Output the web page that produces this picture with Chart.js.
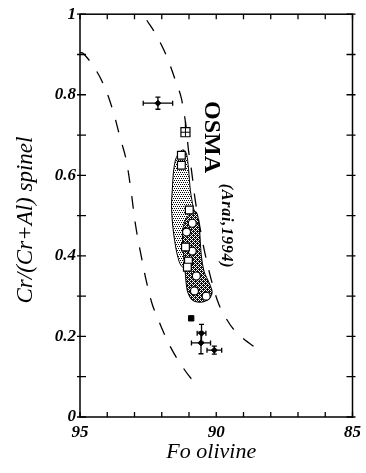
<!DOCTYPE html>
<html>
<head>
<meta charset="utf-8">
<script src="https://cdn.jsdelivr.net/npm/chart.js@4/dist/chart.umd.min.js"></script>
<style>
  html, body { margin: 0; padding: 0; background: #fff; }
  canvas { display: block; }
</style>
</head>
<body>
<canvas id="osmaChart" width="366" height="473"></canvas>
<script>
// Fo olivine vs Cr/(Cr+Al) spinel with the OSMA field (Arai, 1994)
const xTickLabels = [95, 90, 85];
const yTickLabels = [0, 0.2, 0.4, 0.6, 0.8, 1];

// open squares
const squareFo = [91.28, 91.28, 90.99, 91.13, 91.02, 91.06];
const squareCr = [0.650, 0.625, 0.514, 0.422, 0.387, 0.372];
// open circles
const circleFo = [90.88, 91.09, 90.88, 90.73, 90.80, 90.37];
const circleCr = [0.481, 0.459, 0.412, 0.350, 0.313, 0.300];
// averages with error bars
const meanFo = [92.14, 90.54, 90.56, 90.07];
const meanCr = [0.779, 0.208, 0.184, 0.166];
const meanFoErr = [0.54, 0.16, 0.35, 0.27];
const meanCrErr = [0.015, 0.022, 0.027, 0.01];
// hatched square (with upper error) and small black square
const hatchFo = [91.13];
const hatchCr = [0.707];
const hatchCrErrUp = [0.027];
const smallFo = [90.92];
const smallCr = [0.245];

// dashed boundaries of the mantle array
const leftBoundFo = [95.0, 94.89, 94.53, 94.16, 93.83, 93.50, 93.32, 93.14, 92.96, 92.74, 92.55, 92.34, 92.15, 91.97, 91.72, 91.35, 90.88, 90.62];
const leftBoundCr = [0.905, 0.903, 0.873, 0.829, 0.769, 0.687, 0.643, 0.568, 0.476, 0.395, 0.333, 0.278, 0.246, 0.216, 0.179, 0.136, 0.092, 0.077];
const rightBoundFo = [92.55, 92.26, 91.97, 91.72, 91.50, 91.31, 91.20, 91.09, 91.02, 90.91, 90.77, 90.58, 90.40, 90.18, 89.96, 89.71, 89.23, 88.32];
const rightBoundCr = [0.985, 0.955, 0.918, 0.878, 0.836, 0.799, 0.762, 0.712, 0.663, 0.613, 0.538, 0.464, 0.402, 0.340, 0.290, 0.253, 0.208, 0.160];

// stippled fields
const lightFo = [91.42, 91.31, 91.20, 91.09, 91.02, 90.95, 90.84, 90.77, 90.91, 91.06, 91.28, 91.42, 91.53, 91.61, 91.64, 91.61, 91.57, 91.50, 91.42];
const lightCr = [0.650, 0.660, 0.663, 0.653, 0.618, 0.563, 0.519, 0.504, 0.439, 0.370, 0.375, 0.400, 0.439, 0.484, 0.526, 0.568, 0.608, 0.638, 0.650];
const darkFo = [91.24, 91.13, 90.95, 90.73, 90.62, 90.55, 90.44, 90.26, 90.15, 90.26, 90.55, 90.88, 91.06, 91.13, 91.20, 91.24, 91.24];
const darkCr = [0.464, 0.489, 0.504, 0.509, 0.469, 0.402, 0.360, 0.333, 0.310, 0.293, 0.285, 0.290, 0.313, 0.352, 0.402, 0.439, 0.464];

const serif = "'Liberation Serif', 'Times New Roman', serif";

function pts(xs, ys) {
    return xs.map((x, i) => ({ x: x, y: ys[i] }));
}

function dotPattern(size, pixels, bg, fg) {
    const c = document.createElement('canvas');
    c.width = size;
    c.height = size;
    const g = c.getContext('2d');
    g.fillStyle = bg;
    g.fillRect(0, 0, size, size);
    g.fillStyle = fg;
    pixels.forEach(p => g.fillRect(p[0], p[1], 1, 1));
    return g.createPattern(c, 'repeat');
}

const lightFill = dotPattern(4, [[0, 0], [2, 0], [1, 2], [3, 2]], '#fff', '#000');
const darkFill = dotPattern(4, [[0, 0], [2, 0], [0, 2], [2, 2], [1, 1], [3, 3]], '#111', '#fff');

// error bars, drawn under the markers
const errorBars = {
    id: 'errorBars',
    beforeDatasetsDraw(chart) {
        const { ctx, scales: { x, y } } = chart;
        ctx.save();
        ctx.strokeStyle = '#000';
        ctx.lineWidth = 1.3;
        const cap = 2.5;
        meanFo.forEach((fo, i) => {
            const px = x.getPixelForValue(fo);
            const py = y.getPixelForValue(meanCr[i]);
            const x1 = x.getPixelForValue(fo - meanFoErr[i]);
            const x2 = x.getPixelForValue(fo + meanFoErr[i]);
            const y1 = y.getPixelForValue(meanCr[i] + meanCrErr[i]);
            const y2 = y.getPixelForValue(meanCr[i] - meanCrErr[i]);
            ctx.beginPath();
            ctx.moveTo(x1, py); ctx.lineTo(x2, py);
            ctx.moveTo(x1, py - cap); ctx.lineTo(x1, py + cap);
            ctx.moveTo(x2, py - cap); ctx.lineTo(x2, py + cap);
            ctx.moveTo(px, y1); ctx.lineTo(px, y2);
            ctx.moveTo(px - cap, y1); ctx.lineTo(px + cap, y1);
            ctx.moveTo(px - cap, y2); ctx.lineTo(px + cap, y2);
            ctx.stroke();
        });
        hatchFo.forEach((fo, i) => {
            const px = x.getPixelForValue(fo);
            ctx.beginPath();
            ctx.moveTo(px, y.getPixelForValue(hatchCr[i]));
            ctx.lineTo(px, y.getPixelForValue(hatchCr[i] + hatchCrErrUp[i]));
            ctx.stroke();
        });
        ctx.restore();
    }
};

// box frame with inward ticks, axis titles and the OSMA label
const frameAndText = {
    id: 'frameAndText',
    afterDraw(chart) {
        const { ctx, chartArea: a, scales: { x, y } } = chart;
        ctx.save();
        ctx.strokeStyle = '#000';
        ctx.lineWidth = 1.5;
        ctx.strokeRect(a.left, a.top, a.right - a.left, a.bottom - a.top);
        ctx.lineWidth = 1.3;
        ctx.beginPath();
        x.ticks.forEach(t => {
            const px = x.getPixelForValue(t.value);
            ctx.moveTo(px, a.bottom); ctx.lineTo(px, a.bottom - 5);
            ctx.moveTo(px, a.top); ctx.lineTo(px, a.top + 5);
        });
        y.ticks.forEach(t => {
            const py = y.getPixelForValue(t.value);
            ctx.moveTo(a.left - 3, py); ctx.lineTo(a.left + 6, py);
            ctx.moveTo(a.right + 3, py); ctx.lineTo(a.right - 6, py);
        });
        ctx.stroke();

        ctx.fillStyle = '#000';
        ctx.textAlign = 'center';
        ctx.textBaseline = 'middle';
        // x title
        ctx.font = 'italic 22px ' + serif;
        ctx.fillText('Fo olivine', (a.left + a.right) / 2 - 5, 452);
        // y title
        ctx.save();
        ctx.translate(26, 220);
        ctx.rotate(-Math.PI / 2);
        ctx.font = 'italic 23px ' + serif;
        ctx.fillText('Cr/(Cr+Al) spinel', 0, 0);
        ctx.restore();
        // OSMA label
        ctx.save();
        ctx.translate(x.getPixelForValue(90.2), y.getPixelForValue(0.695));
        ctx.rotate(Math.PI / 2);
        ctx.font = 'bold 24px ' + serif;
        ctx.fillText('OSMA', 0, 0);
        ctx.restore();
        ctx.save();
        ctx.translate(x.getPixelForValue(89.63), y.getPixelForValue(0.474));
        ctx.rotate(Math.PI / 2);
        ctx.font = 'italic bold 16px ' + serif;
        ctx.letterSpacing = '0.8px';
        ctx.fillText('(Arai,1994)', 0, 0);
        ctx.restore();
        ctx.restore();
    }
};

const tickFont = { family: serif, size: 17, style: 'italic', weight: 'bold' };

const ctx = document.getElementById('osmaChart').getContext('2d');
const osmaChart = new Chart(ctx, {
    type: 'scatter',
    data: {
        datasets: [
            {
                label: 'squares',
                data: pts(squareFo, squareCr),
                pointStyle: 'rect',
                pointRadius: 5.5,
                backgroundColor: '#fff',
                borderColor: '#000',
                borderWidth: 1.2,
                order: 0
            },
            {
                label: 'circles',
                data: pts(circleFo, circleCr),
                pointStyle: 'circle',
                pointRadius: 4,
                backgroundColor: '#fff',
                borderColor: '#000',
                borderWidth: 1.2,
                order: 0
            },
            {
                label: 'hatched cross',
                data: pts(hatchFo, hatchCr),
                pointStyle: 'cross',
                pointRadius: 4.5,
                borderColor: '#000',
                borderWidth: 1,
                order: -1
            },
            {
                label: 'hatched square',
                data: pts(hatchFo, hatchCr),
                pointStyle: 'rect',
                pointRadius: 6.4,
                backgroundColor: '#fff',
                borderColor: '#000',
                borderWidth: 1.2,
                order: 0
            },
            {
                label: 'small square',
                data: pts(smallFo, smallCr),
                pointStyle: 'rect',
                pointRadius: 3.8,
                backgroundColor: '#000',
                borderColor: '#000',
                borderWidth: 1,
                order: 0
            },
            {
                label: 'means',
                data: pts(meanFo, meanCr),
                pointStyle: 'rectRot',
                pointRadius: 3,
                backgroundColor: '#000',
                borderColor: '#000',
                borderWidth: 1,
                order: 0
            },
            {
                label: 'left boundary',
                type: 'line',
                data: pts(leftBoundFo, leftBoundCr),
                borderColor: '#000',
                borderWidth: 1.3,
                borderDash: [13, 13],
                pointRadius: 0,
                tension: 0.4,
                fill: false,
                order: 1
            },
            {
                label: 'right boundary',
                type: 'line',
                data: pts(rightBoundFo, rightBoundCr),
                borderColor: '#000',
                borderWidth: 1.3,
                borderDash: [13, 13],
                pointRadius: 0,
                tension: 0.4,
                fill: false,
                order: 1
            },
            {
                label: 'dark field',
                type: 'line',
                data: pts(darkFo, darkCr),
                borderColor: '#000',
                borderWidth: 1,
                backgroundColor: darkFill,
                pointRadius: 0,
                tension: 0.3,
                fill: 'shape',
                order: 2
            },
            {
                label: 'light field',
                type: 'line',
                data: pts(lightFo, lightCr),
                borderColor: '#000',
                borderWidth: 1,
                backgroundColor: lightFill,
                pointRadius: 0,
                tension: 0.3,
                fill: 'shape',
                order: 3
            }
        ]
    },
    options: {
        responsive: false,
        animation: false,
        events: [],
        layout: { padding: { top: 13, right: 12, left: 0, bottom: 0 } },
        plugins: {
            legend: { display: false },
            tooltip: { enabled: false }
        },
        scales: {
            x: {
                type: 'linear',
                reverse: true,
                min: 85,
                max: 95,
                grid: { display: false, drawTicks: false },
                border: { display: false },
                ticks: {
                    stepSize: 1,
                    autoSkip: false,
                    maxRotation: 0,
                    padding: 5,
                    color: '#000',
                    font: tickFont,
                    callback: v => xTickLabels.includes(v) ? String(v) : ''
                },
                afterFit: s => { s.height = 56; }
            },
            y: {
                type: 'linear',
                min: 0,
                max: 1,
                grid: { display: false, drawTicks: false },
                border: { display: false },
                ticks: {
                    stepSize: 0.1,
                    autoSkip: false,
                    padding: 4,
                    color: '#000',
                    font: tickFont,
                    callback: v => {
                        const r = Math.round(v * 10) / 10;
                        return yTickLabels.includes(r) ? String(r) : '';
                    }
                },
                afterFit: s => { s.width = 80; }
            }
        }
    },
    plugins: [errorBars, frameAndText]
});
</script>
</body>
</html>
